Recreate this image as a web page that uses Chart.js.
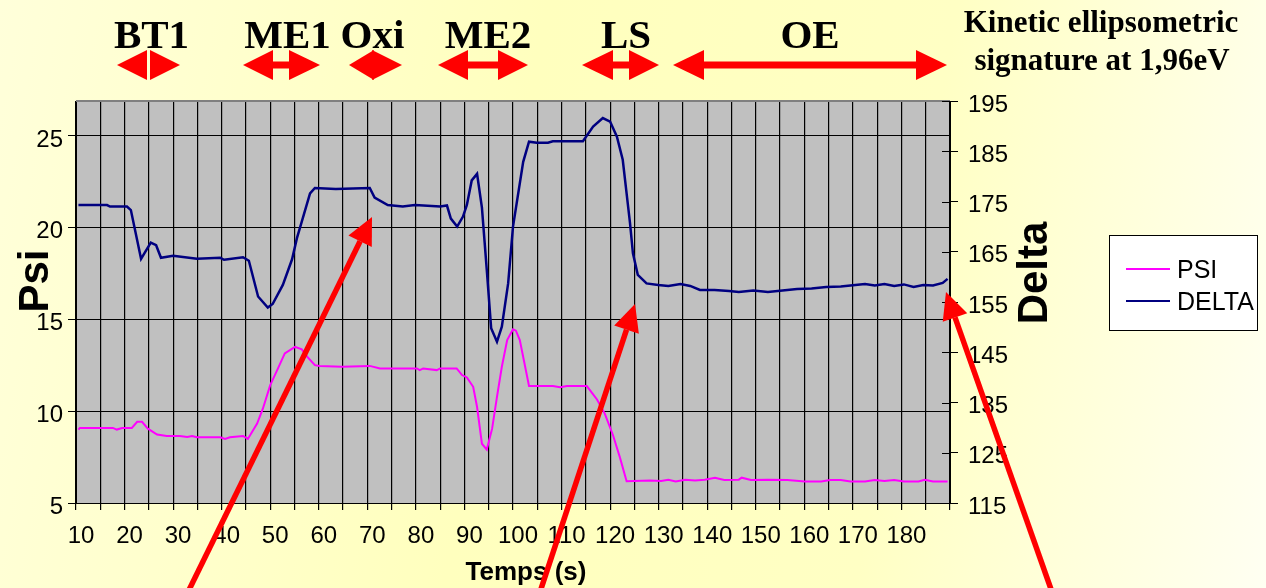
<!DOCTYPE html>
<html>
<head>
<meta charset="utf-8">
<script src="https://cdn.jsdelivr.net/npm/chart.js@4.4.1/dist/chart.umd.min.js"></script>
<style>
    html, body { margin: 0; padding: 0; }
    body {
        width: 1266px;
        height: 588px;
        overflow: hidden;
        background: linear-gradient(100deg, #FFFFDA 0%, #FFFFBE 40%, #FFFFC4 70%, #FFFFF2 100%);
    }
    canvas { display: block; }
</style>
</head>
<body>
<canvas id="kineticChart" width="1266" height="588"></canvas>
<script>
// Data
const psiTimes = [10, 10.3, 17.1, 17.9, 19, 21, 22.1, 23.1, 24.3, 26.2, 28.2, 30.9, 32.4, 33.4, 34.4, 39.2, 40.2, 41.2, 43.9, 44.9,
    46.8, 48, 49.5, 51.1, 52.5, 54.6, 56, 57.1, 58.7, 59.7, 64.3, 70, 72.1, 79.7, 80.3, 81, 83.8, 84.5, 87.9, 89,
    90, 91.3, 92.1, 93.1, 94.1, 95.2, 96.2, 97.2, 98.3, 99.5, 100.1, 100.9, 102.8, 107.7, 109.2, 110.6, 114.7, 116.8, 118.4, 120.1,
    121.5, 122.9, 127.7, 130, 131.5, 133, 135, 137, 139, 141.1, 143, 146, 146.6, 148.5, 152, 156, 159.6, 163, 164.8, 167,
    169, 172, 174, 176, 178, 180, 183, 184.3, 186, 189];
const psiValues = [9.0, 9.09, 9.09, 9.0, 9.09, 9.09, 9.42, 9.42, 9.05, 8.73, 8.65, 8.65, 8.6, 8.65, 8.58, 8.58, 8.49, 8.58, 8.65, 8.49,
    9.33, 10.15, 11.42, 12.33, 13.15, 13.51, 13.37, 12.97, 12.51, 12.46, 12.42, 12.47, 12.33, 12.33, 12.24, 12.33, 12.24, 12.33, 12.33, 11.97,
    11.84, 11.33, 10.23, 8.23, 7.91, 9.05, 10.78, 12.42, 13.88, 14.46, 14.39, 13.88, 11.37, 11.37, 11.3, 11.37, 11.37, 10.64, 9.87, 8.69,
    7.5, 6.19, 6.23, 6.2, 6.27, 6.17, 6.27, 6.23, 6.27, 6.38, 6.25, 6.27, 6.38, 6.25, 6.27, 6.25, 6.17, 6.17, 6.25, 6.25,
    6.17, 6.17, 6.25, 6.2, 6.25, 6.17, 6.17, 6.27, 6.17, 6.17];

const deltaTimes = [10, 15.9, 16.5, 20, 20.8, 22.9, 24.9, 26, 27, 29.5, 34.4, 39.2, 40, 43.9, 45.1, 47, 49, 50, 52.1, 54,
    55, 56, 57.7, 58.7, 63, 70, 71, 73.7, 76.8, 79.3, 84.5, 85.9, 86.7, 88, 89.2, 90, 91, 92.1, 93.1, 94.1,
    95, 96.2, 97.2, 98.5, 99.5, 101.6, 102.8, 104.4, 106.7, 107.7, 113.9, 116, 118, 119.5, 120.9, 122.1, 123.6, 124.2, 125.2, 127,
    129.4, 131.5, 134, 136, 138, 141, 144, 146, 149, 152, 155, 158, 161, 164, 167, 170, 172, 174, 176, 178,
    180, 182, 184, 186, 188, 189];
const deltaValues = [174.3, 174.3, 174.0, 174.0, 173.3, 163.6, 166.8, 166.3, 163.8, 164.2, 163.6, 163.8, 163.4, 163.9, 163.2, 156.1, 153.9, 154.6, 158.4, 163.5,
    167.7, 171.0, 176.6, 177.7, 177.5, 177.7, 175.8, 174.3, 174.0, 174.3, 174.0, 174.2, 171.6, 170.0, 172.0, 174.3, 179.2, 180.5, 173.8, 161.4,
    149.8, 147.1, 150.1, 158.7, 170.0, 182.9, 186.9, 186.7, 186.7, 187.0, 187.0, 189.9, 191.6, 190.9, 187.9, 183.3, 170.7, 164.7, 160.4, 158.7,
    158.4, 158.2, 158.6, 158.2, 157.4, 157.4, 157.2, 157.0, 157.3, 157.0, 157.3, 157.6, 157.7, 158.0, 158.1, 158.4, 158.6, 158.3, 158.6, 158.2,
    158.5, 158.0, 158.4, 158.3, 158.8, 159.6];

const xLabels = [10, 20, 30, 40, 50, 60, 70, 80, 90, 100, 110, 120, 130, 140, 150, 160, 170, 180];
const psiTicks = [5, 10, 15, 20, 25];
const deltaTicks = [115, 125, 135, 145, 155, 165, 175, 185, 195];
const phaseNames = ['BT1', 'ME1', 'Oxi', 'ME2', 'LS', 'OE'];

const SANS = "'Liberation Sans', Arial, sans-serif";
const SERIF = "'Liberation Serif', 'Times New Roman', serif";

// Decorations: plot background, headers, red arrows, titles, legend
const overlayPlugin = {
    id: 'overlay',
    beforeDraw(chart) {
        const { ctx, chartArea: a } = chart;
        ctx.save();
        ctx.fillStyle = '#C0C0C0';
        ctx.fillRect(a.left, a.top, a.right - a.left, a.bottom - a.top);
        ctx.restore();
    },
    afterDraw(chart) {
        const { ctx, chartArea: a } = chart;
        ctx.save();

        // top edge of plot area
        ctx.strokeStyle = '#808080';
        ctx.lineWidth = 2;
        ctx.beginPath();
        ctx.moveTo(a.left, a.top);
        ctx.lineTo(a.right, a.top);
        ctx.stroke();

        // inner half of the right axis ticks
        const y1 = chart.scales.y1;
        ctx.strokeStyle = '#000';
        ctx.lineWidth = 1;
        deltaTicks.forEach(v => {
            const py = Math.round(y1.getPixelForValue(v)) + 0.5;
            ctx.beginPath();
            ctx.moveTo(a.right - 8, py);
            ctx.lineTo(a.right, py);
            ctx.stroke();
        });

        // phase headers
        const phaseX = [151.5, 287.5, 372.5, 488, 626, 810];
        ctx.fillStyle = '#000';
        ctx.font = 'bold 41px ' + SERIF;
        ctx.textAlign = 'center';
        ctx.textBaseline = 'alphabetic';
        phaseNames.forEach((name, i) => ctx.fillText(name, phaseX[i], 48));

        // phase double arrows: [left tip, left base, right base, right tip]
        const phaseArrows = [
            [117, 147, 150, 180], [243, 273, 289, 320], [349, 374, 372, 402],
            [438, 468, 498, 528], [582, 613, 629, 659], [673, 704, 916, 947]
        ];
        ctx.fillStyle = '#FF0000';
        phaseArrows.forEach(([lt, lb, rb, rt]) => {
            const cy = 65;
            if (rb - lb > 5) ctx.fillRect(lb, cy - 3.5, rb - lb, 7);
            ctx.beginPath();
            ctx.moveTo(lt, cy);
            ctx.lineTo(lb, cy - 15);
            ctx.lineTo(lb, cy + 15);
            ctx.closePath();
            ctx.fill();
            ctx.beginPath();
            ctx.moveTo(rt, cy);
            ctx.lineTo(rb, cy - 15);
            ctx.lineTo(rb, cy + 15);
            ctx.closePath();
            ctx.fill();
        });

        // chart caption
        ctx.fillStyle = '#000';
        ctx.font = 'bold 31px ' + SERIF;
        ctx.fillText('Kinetic ellipsometric', 1101, 32);
        ctx.fillText('signature at 1,96eV', 1102, 70);

        // axis titles
        ctx.font = 'bold 42px ' + SANS;
        ctx.save();
        ctx.translate(48, 281);
        ctx.rotate(-Math.PI / 2);
        ctx.fillText('Psi', 0, 0);
        ctx.restore();
        ctx.save();
        ctx.translate(1047, 273);
        ctx.rotate(-Math.PI / 2);
        ctx.fillText('Delta', 0, 0);
        ctx.restore();
        ctx.font = 'bold 26px ' + SANS;
        ctx.fillText('Temps (s)', 526, 580);

        // big red pointers
        const pointers = [
            [[188, 592], [372, 217]],
            [[540, 592], [635, 304]],
            [[1052, 592], [946, 292]]
        ];
        ctx.fillStyle = '#FF0000';
        ctx.strokeStyle = '#FF0000';
        ctx.lineWidth = 5.5;
        pointers.forEach(([from, tip]) => {
            const dx = tip[0] - from[0], dy = tip[1] - from[1];
            const len = Math.hypot(dx, dy);
            const ux = dx / len, uy = dy / len;
            const headLen = 27, half = 13;
            const bx = tip[0] - ux * headLen, by = tip[1] - uy * headLen;
            ctx.beginPath();
            ctx.moveTo(from[0], from[1]);
            ctx.lineTo(bx, by);
            ctx.stroke();
            ctx.beginPath();
            ctx.moveTo(tip[0], tip[1]);
            ctx.lineTo(bx - uy * half, by + ux * half);
            ctx.lineTo(bx + uy * half, by - ux * half);
            ctx.closePath();
            ctx.fill();
        });

        // legend
        ctx.fillStyle = '#FFFFFF';
        ctx.fillRect(1109, 235, 149, 96);
        ctx.strokeStyle = '#000';
        ctx.lineWidth = 1;
        ctx.strokeRect(1109.5, 235.5, 148, 95);
        ctx.font = '25px ' + SANS;
        ctx.textAlign = 'left';
        ctx.textBaseline = 'middle';
        chart.data.datasets.forEach((ds, i) => {
            const ly = 269 + i * 32;
            ctx.strokeStyle = ds.borderColor;
            ctx.lineWidth = 2;
            ctx.beginPath();
            ctx.moveTo(1126, ly);
            ctx.lineTo(1170, ly);
            ctx.stroke();
            ctx.fillStyle = '#000';
            ctx.fillText(ds.label, 1177, ly + 2);
        });

        ctx.restore();
    }
};

const toPoints = (times, values) => times.map((t, i) => ({ x: t, y: values[i] }));

new Chart(document.getElementById('kineticChart'), {
    type: 'line',
    data: {
        datasets: [{
            label: 'PSI',
            data: toPoints(psiTimes, psiValues),
            borderColor: '#FF00FF',
            borderWidth: 2,
            pointRadius: 0,
            tension: 0,
            yAxisID: 'y'
        }, {
            label: 'DELTA',
            data: toPoints(deltaTimes, deltaValues),
            borderColor: '#000080',
            borderWidth: 2.5,
            pointRadius: 0,
            tension: 0,
            yAxisID: 'y1'
        }]
    },
    options: {
        responsive: false,
        animation: false,
        devicePixelRatio: 1,
        layout: { padding: { top: 101, left: 0, right: 0, bottom: 0 } },
        plugins: {
            legend: { display: false },
            tooltip: { enabled: false }
        },
        scales: {
            x: {
                type: 'linear',
                min: 9.5,
                max: 189.5,
                afterBuildTicks: scale => {
                    const ticks = [];
                    for (let k = 0; k <= 36; k++) ticks.push({ value: 9.5 + 5 * k });
                    scale.ticks = ticks;
                },
                afterFit: scale => { scale.height = 85; },
                grid: { color: '#000', lineWidth: 1.2, drawTicks: true, tickLength: 7, tickColor: '#000' },
                border: { color: '#000', width: 1 },
                ticks: {
                    autoSkip: false,
                    maxRotation: 0,
                    padding: 12,
                    labelOffset: 5,
                    color: '#000',
                    font: { family: SANS, size: 24 },
                    callback: value => xLabels.includes(value + 0.5) ? String(value + 0.5) : ''
                }
            },
            y: {
                position: 'left',
                min: 5,
                max: 26.9,
                afterBuildTicks: scale => { scale.ticks = psiTicks.map(v => ({ value: v })); },
                afterFit: scale => { scale.width = 76; },
                grid: { color: '#000', lineWidth: 1, tickLength: 8, tickColor: '#000' },
                border: { color: '#000', width: 1 },
                ticks: {
                    padding: 5,
                    labelOffset: 4,
                    color: '#000',
                    font: { family: SANS, size: 24 }
                }
            },
            y1: {
                position: 'right',
                min: 115,
                max: 195,
                afterBuildTicks: scale => { scale.ticks = deltaTicks.map(v => ({ value: v })); },
                afterFit: scale => { scale.width = 316; },
                grid: { drawOnChartArea: false, tickLength: 8, tickColor: '#000' },
                border: { color: '#000', width: 1 },
                ticks: {
                    padding: 10,
                    labelOffset: 4,
                    color: '#000',
                    font: { family: SANS, size: 24 }
                }
            }
        }
    },
    plugins: [overlayPlugin]
});
</script>
</body>
</html>
